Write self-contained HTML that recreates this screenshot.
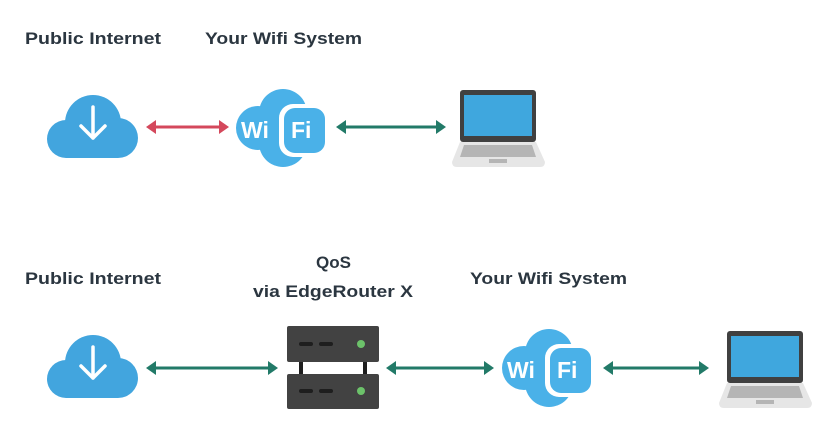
<!DOCTYPE html>
<html><head><meta charset="utf-8"><style>
html,body{margin:0;padding:0;background:#fff;}
svg{display:block}
text{font-family:"Liberation Sans",sans-serif;font-weight:bold;fill:#2b3640;font-size:17px}
</style></head><body>
<svg width="837" height="440" viewBox="0 0 837 440" xmlns="http://www.w3.org/2000/svg">
<defs>
  <g id="cloud">
    <circle cx="46" cy="30" r="28" fill="#42a5de"/>
    <circle cx="19" cy="46" r="19" fill="#42a5de"/>
    <circle cx="71" cy="45" r="20" fill="#42a5de"/>
    <rect x="19" y="40" width="52" height="25" fill="#42a5de"/>
    <path d="M46 14 V45 M34 33 L46 45 L58 33" stroke="#fff" stroke-width="3.5" fill="none" stroke-linecap="round" stroke-linejoin="round"/>
  </g>
  <g id="wifi">
    <circle cx="47" cy="25" r="24" fill="#4ab1e8"/>
    <circle cx="22" cy="40" r="22" fill="#4ab1e8"/>
    <circle cx="47" cy="55" r="24" fill="#4ab1e8"/>
    <circle cx="70" cy="40" r="22" fill="#4ab1e8"/>
    <rect x="15" y="20" width="65" height="40" fill="#4ab1e8"/>
    <rect x="43" y="16" width="50" height="53" rx="14" fill="#fff"/>
    <rect x="48" y="20" width="41" height="45" rx="11" fill="#4ab1e8"/>
    <text x="5" y="50" style="fill:#fff;font-size:23px">Wi</text>
    <text x="55" y="50" style="fill:#fff;font-size:23px">Fi</text>
  </g>
  <g id="laptop">
    <rect x="8" y="0" width="76" height="52" rx="3" fill="#404040"/>
    <rect x="12" y="5" width="68" height="41" fill="#3fa7de"/>
    <path d="M8 52 H84 L93 72 Q93 77 88 77 H5 Q0 77 0 72 Z" fill="#e6e6e6"/>
    <path d="M12 55 H80 L84 67 H8 Z" fill="#b5b5b5"/>
    <rect x="37" y="69" width="18" height="4" fill="#b5b5b5"/>
  </g>
  <g id="server">
    <rect x="12" y="30" width="4" height="20" fill="#1e1e1e"/>
    <rect x="76" y="30" width="4" height="20" fill="#1e1e1e"/>
    <rect x="0" y="0" width="92" height="36" rx="2" fill="#424242"/>
    <rect x="0" y="48" width="92" height="35" rx="2" fill="#424242"/>
    <path d="M14 18 H24 M34 18 H44 M14 65 H24 M34 65 H44" stroke="#1e1e1e" stroke-width="4" stroke-linecap="round"/>
    <circle cx="74" cy="18" r="4" fill="#6cc26a"/>
    <circle cx="74" cy="65" r="4" fill="#6cc26a"/>
  </g>
</defs>

<text x="25" y="44" textLength="136" lengthAdjust="spacingAndGlyphs">Public Internet</text>
<text x="205" y="44" textLength="157" lengthAdjust="spacingAndGlyphs">Your Wifi System</text>

<use href="#cloud" x="47" y="93"/>
<use href="#wifi" x="236" y="88"/>
<use href="#laptop" x="452" y="90"/>

<g stroke-width="3">
<line x1="154" y1="127" x2="221" y2="127" stroke="#d4485c"/>
<polygon points="146,127 156,120 156,134" fill="#d4485c"/>
<polygon points="229,127 219,120 219,134" fill="#d4485c"/>
<line x1="344" y1="127" x2="438" y2="127" stroke="#227a68"/>
<polygon points="336,127 346,120 346,134" fill="#227a68"/>
<polygon points="446,127 436,120 436,134" fill="#227a68"/>
</g>

<text x="25" y="284" textLength="136" lengthAdjust="spacingAndGlyphs">Public Internet</text>
<text x="316" y="268" textLength="35" lengthAdjust="spacingAndGlyphs">QoS</text>
<text x="253" y="297" textLength="160" lengthAdjust="spacingAndGlyphs">via EdgeRouter X</text>
<text x="470" y="284" textLength="157" lengthAdjust="spacingAndGlyphs">Your Wifi System</text>

<use href="#cloud" x="47" y="333"/>
<use href="#server" x="287" y="326"/>
<use href="#wifi" x="502" y="328"/>
<use href="#laptop" x="719" y="331"/>

<g stroke-width="3" stroke="#227a68" fill="#227a68">
<line x1="154" y1="368" x2="270" y2="368"/>
<polygon stroke="none" points="146,368 156,361 156,375"/>
<polygon stroke="none" points="278,368 268,361 268,375"/>
<line x1="394" y1="368" x2="486" y2="368"/>
<polygon stroke="none" points="386,368 396,361 396,375"/>
<polygon stroke="none" points="494,368 484,361 484,375"/>
<line x1="611" y1="368" x2="701" y2="368"/>
<polygon stroke="none" points="603,368 613,361 613,375"/>
<polygon stroke="none" points="709,368 699,361 699,375"/>
</g>
</svg>
</body></html>
